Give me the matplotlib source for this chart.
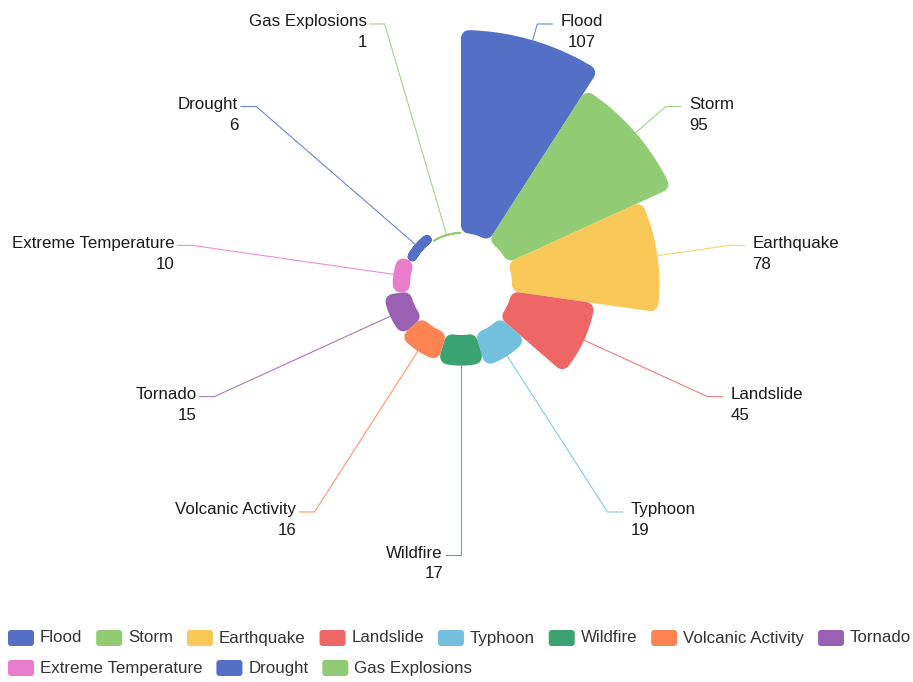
import numpy as np
import matplotlib.pyplot as plt
from matplotlib.patches import Polygon, FancyBboxPatch

plt.rcParams['font.family'] = ['Liberation Sans', 'DejaVu Sans']

# 数据
names = ['Flood', 'Storm', 'Earthquake', 'Landslide', 'Typhoon', 'Wildfire',
         'Volcanic Activity', 'Tornado', 'Extreme Temperature', 'Drought', 'Gas Explosions']
values = [107, 95, 78, 45, 19, 17, 16, 15, 10, 6, 1]
colors = ['#5470c6', '#91cc75', '#fac858', '#ee6666', '#73c0de', '#3ba272',
          '#fc8452', '#9a60b4', '#ea7ccc', '#5470c6', '#91cc75']

W, H = 913, 682
cx, cy = 461, 284
r_in, r_out = 51, 254
r_label = 271
corner = 8
fs = 12.2

fig = plt.figure(figsize=(W / 100, H / 100), dpi=100)
ax = fig.add_axes([0, 0, 1, 1])
ax.set_xlim(0, W)
ax.set_ylim(H, 0)
ax.axis('off')

vmin, vmax = min(values), max(values)
step = 360 / len(values)


def pt(r, a):
    a = np.radians(a)
    return cx + r * np.cos(a), cy - r * np.sin(a)


def rounded_sector(a1, a2, ri, ro, color):
    t = ro - ri
    d = min(corner, t / 2)
    d = max(d, 0.9)
    ri2 = ri + min(corner, t / 2)
    ro2 = ro - min(corner, t / 2)
    if ro2 < ri2:
        ro2 = ri2
    oa = np.degrees(np.arcsin(d / ro2))
    ia = np.degrees(np.arcsin(d / ri2))
    outer = np.linspace(a1 - oa, a2 + oa, 60)
    inner = np.linspace(a2 + ia, a1 - ia, 60)
    xy = [pt(ro2, a) for a in outer] + [pt(ri2, a) for a in inner]
    ax.add_patch(Polygon(xy, closed=True, facecolor=color, edgecolor=color,
                         linewidth=2 * d * 0.72, joinstyle='round', zorder=3))


align_top = {'Flood': 'center'}

for i, (n, v, c) in enumerate(zip(names, values, colors)):
    a1 = 90 - i * step
    a2 = 90 - (i + 1) * step
    r = r_in + (v - vmin) / (vmax - vmin) * (r_out - r_in)
    rounded_sector(a1, a2, r_in, r, c)

    mid = (a1 + a2) / 2
    side = 1 if np.cos(np.radians(mid)) > 1e-6 else -1
    x0, y0 = pt(r, mid)
    x1, y1 = pt(r_label, mid)
    x2 = x1 + side * 15
    ax.plot([x0, x1, x2], [y0, y1, y1], color=c, lw=0.8, alpha=0.85,
            zorder=2, solid_joinstyle='round')

    ha = 'left' if side > 0 else 'right'
    tx = x2 + (8 if side > 0 else -3)
    if n in align_top:
        t1 = ax.text(tx, y1 - 2, n, fontsize=fs, color='#1a1a1a', ha='left', va='center')
        fig.canvas.draw()
        bb = t1.get_window_extent()
        ax.text(tx + bb.width / 2, y1 + 19, str(v), fontsize=fs, color='#1a1a1a',
                ha='center', va='center')
    else:
        ax.text(tx, y1 - 2, n, fontsize=fs, color='#1a1a1a', ha=ha, va='center')
        ax.text(tx, y1 + 19, str(v), fontsize=fs, color='#1a1a1a', ha=ha, va='center')

# 图例
fig.canvas.draw()
renderer = fig.canvas.get_renderer()
lx, ly = 8, 638
for n, c in zip(names, colors):
    t = ax.text(0, 0, n, fontsize=fs, color='#333333', ha='left', va='center')
    tw = t.get_window_extent(renderer).width
    t.remove()
    if lx + 32 + tw > W:
        lx = 8
        ly += 30
    ax.add_patch(FancyBboxPatch((lx + 3, ly - 5), 20, 10,
                                boxstyle='round,pad=3', facecolor=c, edgecolor='none'))
    ax.text(lx + 32, ly, n, fontsize=fs, color='#333333', ha='left', va='center')
    lx += 32 + tw + 13.8

plt.savefig('out.png', dpi=100)
